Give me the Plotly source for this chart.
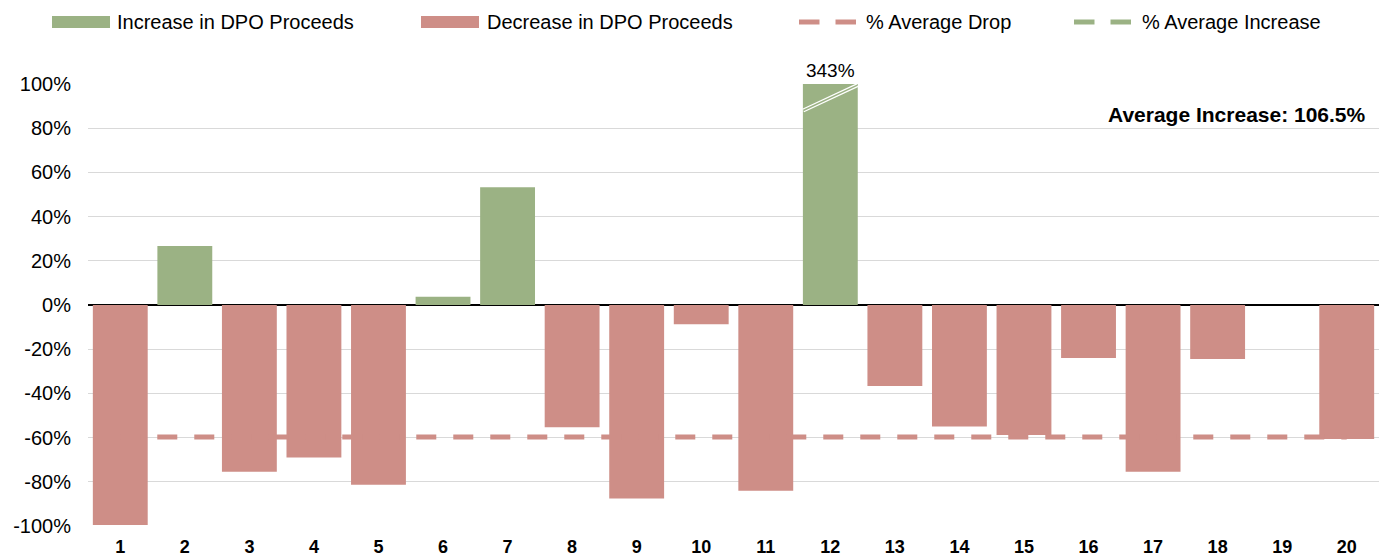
import plotly.graph_objects as go

# ---- data ----
categories = [str(i) for i in range(1, 21)]
change_pct = [-99.5, 26.7, -75.5, -69.0, -81.3, 3.7, 53.3, -55.3, -87.5, -8.7,
              -84.0, 343.0, -36.7, -55.0, -58.8, -24.0, -75.4, -24.4, 0.0, -60.6]
avg_drop_pct = -59.7
avg_increase_pct = 106.5
axis_cap = 100
y_ticks = [-100, -80, -60, -40, -20, 0, 20, 40, 60, 80, 100]
y_tick_labels = [f"{t}%" for t in y_ticks]

GREEN = "#9BB284"
RED = "#CE8E87"
FONT = "Liberation Sans, Arial, sans-serif"

inc_vals = [min(v, axis_cap) if v > 0 else None for v in change_pct]
dec_vals = [v if v < 0 else None for v in change_pct]
inc_text = [f"{v:.0f}%" if v > axis_cap else "" for v in change_pct]

fig = go.Figure()

# average lines (drawn beneath the bars)
fig.add_trace(go.Scatter(
    x=categories, y=[avg_drop_pct] * len(categories), mode="lines",
    line=dict(color=RED, width=5, dash="20px,17px"), showlegend=False,
    hoverinfo="skip"))
fig.add_trace(go.Scatter(
    x=categories, y=[avg_increase_pct] * len(categories), mode="lines",
    line=dict(color=GREEN, width=5, dash="20px,17px"), showlegend=False,
    hoverinfo="skip"))

fig.add_trace(go.Bar(
    x=categories, y=inc_vals, marker=dict(color=GREEN, line=dict(width=0)),
    text=inc_text, textposition="outside", cliponaxis=False,
    textfont=dict(size=19, color="black", family=FONT), showlegend=False))
fig.add_trace(go.Bar(
    x=categories, y=dec_vals, marker=dict(color=RED, line=dict(width=0)),
    showlegend=False))

# axis-break mark on the capped bar
brk_idx = [i for i, v in enumerate(change_pct) if v > axis_cap][0]
for w, c in [(4, "white"), (1.5, GREEN)]:
    fig.add_shape(type="line", xref="x", yref="y",
                  x0=brk_idx - 0.42, x1=brk_idx + 0.42, y0=88, y1=99.5,
                  line=dict(color=c, width=w), layer="above")

# ---- manual legend (pixel-like positions in paper coords) ----
L, R, T, B = 88, 1379, 84, 526
def px(x):
    return (x - L) / (R - L)
def py(y):
    return (B - y) / (B - T)

legend_y = 22
items = [
    ("rect", GREEN, 52, 110, 115, "Increase in DPO Proceeds"),
    ("rect", RED, 421, 479, 485, "Decrease in DPO Proceeds"),
    ("dash", RED, 799, 856, 864, "% Average Drop"),
    ("dash", GREEN, 1074, 1131, 1140, "% Average Increase"),
]
for kind, col, x0, x1, tx, label in items:
    if kind == "rect":
        fig.add_shape(type="rect", xref="paper", yref="paper",
                      x0=px(x0), x1=px(x1), y0=py(legend_y + 6), y1=py(legend_y - 6),
                      fillcolor=col, line=dict(width=0))
    else:
        mid = (x0 + x1) / 2
        for a, b in [(x0, mid - 8), (mid + 8, x1)]:
            fig.add_shape(type="line", xref="paper", yref="paper",
                          x0=px(a), x1=px(b), y0=py(legend_y), y1=py(legend_y),
                          line=dict(color=col, width=5))
    fig.add_annotation(x=px(tx), y=py(legend_y), xref="paper", yref="paper",
                       text=label, showarrow=False, xanchor="left", yanchor="middle",
                       font=dict(size=20, color="black", family=FONT))

fig.add_annotation(x=px(1368), y=py(115), xref="paper", yref="paper",
                   text=f"<b>Average Increase: {avg_increase_pct}%</b>", showarrow=False,
                   xanchor="right", yanchor="middle",
                   font=dict(size=21, color="black", family=FONT))

fig.update_layout(
    width=1387, height=559,
    margin=dict(l=L, r=1387 - R, t=T, b=559 - B, autoexpand=False),
    plot_bgcolor="white", paper_bgcolor="white",
    barmode="relative", bargap=0.15,
    font=dict(family=FONT, size=19, color="black"),
    showlegend=False,
)
fig.update_xaxes(type="category", showgrid=False, showline=False, ticks="",
                 automargin=False,
                 tickfont=dict(size=18, family=FONT, color="black", weight="bold"),
                 ticklabelstandoff=8)
fig.update_yaxes(range=[-100, 100], tickvals=y_ticks, ticktext=y_tick_labels,
                 automargin=False,
                 showgrid=True, gridcolor="#D9D9D9", gridwidth=1,
                 zeroline=True, zerolinecolor="black", zerolinewidth=2,
                 tickfont=dict(size=20, family=FONT, color="black"),
                 ticklabelstandoff=16,
                 showline=False, ticks="")

fig.write_html("out.html", include_plotlyjs=True,
               config={"displayModeBar": False},
               post_script="document.body.style.margin='0';document.body.style.overflow='hidden';")
